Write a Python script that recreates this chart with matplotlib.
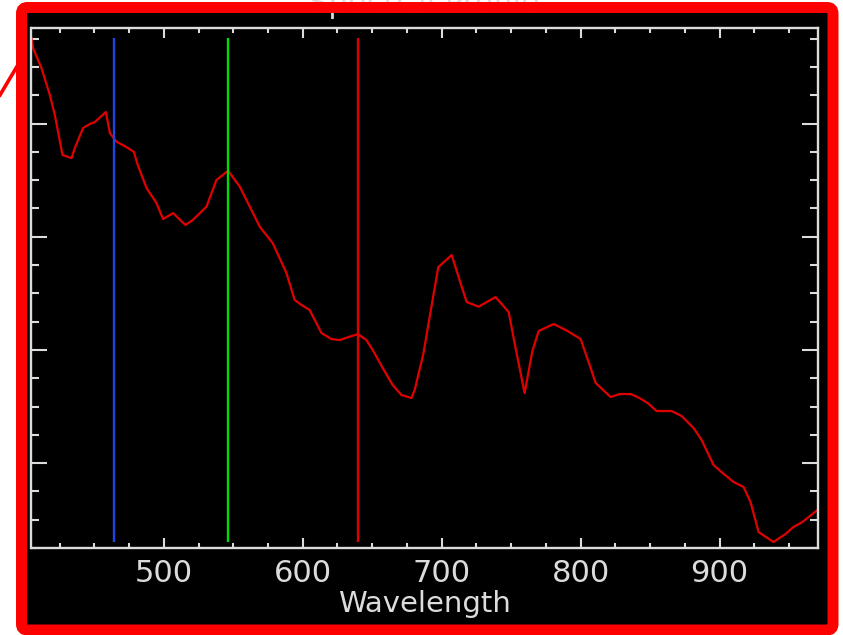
import matplotlib
matplotlib.use("Agg")
import matplotlib.pyplot as plt
from matplotlib.lines import Line2D
from matplotlib.patches import FancyBboxPatch
from matplotlib.ticker import MultipleLocator, NullFormatter

# spectral profile (wavelength in nm, arbitrary reflectance)
wavelength = [404.8, 406.0, 412.0, 418.0, 421.6, 427.1, 433.6, 436.0, 441.9, 446.8,
              450.4, 458.3, 461.2, 466.0, 472.7, 478.4, 481.3, 487.6, 494.7, 499.5,
              506.7, 515.6, 520.9, 530.7, 537.9, 546.3, 554.7, 569.1, 578.4, 588.3,
              594.2, 599.1, 605.0, 613.5, 620.6, 626.6, 633.8, 639.8, 645.8, 650.4,
              657.6, 664.7, 671.0, 678.2, 680.6, 686.8, 692.1, 697.6, 707.2, 712.9,
              718.0, 726.6, 738.8, 748.2, 753.2, 759.7, 765.3, 769.8, 780.6, 790.6,
              800.0, 806.5, 810.8, 821.6, 828.1, 836.0, 842.4, 848.2, 854.7, 865.5,
              872.7, 881.3, 887.1, 895.7, 901.4, 910.1, 917.3, 922.3, 928.1, 938.8,
              947.5, 953.2, 959.7, 970.5]
reflectance = [.4753, .4664, .4488, .4252, .4075, .3722, .3695, .3784, .3960, .3996,
               .4013, .4102, .3916, .3839, .3795, .3751, .3633, .3430, .3298, .3156,
               .3209, .3103, .3148, .3265, .3501, .3583, .3442, .3088, .2944, .2679,
               .2441, .2397, .2352, .2149, .2096, .2087, .2117, .2140, .2087, .1999,
               .1840, .1690, .1602, .1575, .1646, .1964, .2344, .2732, .2838, .2617,
               .2423, .2382, .2467, .2335, .2017, .1619, .1990, .2167, .2229, .2167,
               .2096, .1867, .1708, .1584, .1610, .1610, .1575, .1531, .1460, .1460,
               .1416, .1310, .1204, .0983, .0921, .0833, .0789, .0656, .0391, .0303,
               .0374, .0436, .0480, .0586]

# RGB display bands
band_nm = [464.0, 546.3, 640.0]
band_colors = ["#1e46e6", "#00dc00", "#dc0000"]

x_ticks = [500, 600, 700, 800, 900]

FG = "#dcdcdc"

fig = plt.figure(figsize=(8.43, 6.35), dpi=100, facecolor="white")

# black panel with the red selection frame (frame drawn on top later)
panel = FancyBboxPatch((0.215, 0.05), 8.115, 6.225,
                       boxstyle="round,pad=0,rounding_size=0.06",
                       transform=fig.dpi_scale_trans, facecolor="black",
                       edgecolor="none", zorder=-1)
fig.patches.append(panel)

ax = fig.add_axes([31.5 / 843, 87 / 635, 786 / 843, 520 / 635])
ax.set_facecolor("black")

ax.plot(wavelength, reflectance, color="#e00000", lw=1.6)
ax.vlines(band_nm, min(reflectance), max(reflectance), colors=band_colors, lw=1.7)

ax.set_xlim(min(wavelength), max(wavelength))
ax.set_ylim(0.025, 0.4844)

ax.set_xticks(x_ticks)
ax.xaxis.set_minor_locator(MultipleLocator(25))
ax.yaxis.set_major_locator(MultipleLocator(0.1))
ax.yaxis.set_minor_locator(MultipleLocator(0.025))
ax.yaxis.set_major_formatter(NullFormatter())

for s in ax.spines.values():
    s.set_color(FG)
    s.set_linewidth(1.7)

ax.tick_params(axis="both", which="both", direction="in", top=True, right=True,
               color=FG, width=1.5)
ax.tick_params(axis="x", which="major", length=7.5, pad=8, labelsize=22,
               labelcolor=FG)
ax.tick_params(axis="x", which="minor", length=3.8)
ax.tick_params(axis="y", which="major", length=11.5)
ax.tick_params(axis="y", which="minor", length=5.8)

fig.text(424.5 / 843, 23 / 635, "Wavelength", ha="center", va="baseline",
         fontsize=21, color=FG)

# title sits mostly above the visible frame
fig.text(424.5 / 843, 1 - 13 / 635, "Spectral Profile", ha="center",
         va="baseline", fontsize=22, color=FG, zorder=3)

# tail of an annotation arrow outside the frame
fig.lines.append(Line2D([0.0, 0.22], [5.40, 5.77], transform=fig.dpi_scale_trans,
                        color="red", lw=2.6, zorder=4))

frame = FancyBboxPatch((0.215, 0.05), 8.115, 6.225,
                       boxstyle="round,pad=0,rounding_size=0.06",
                       transform=fig.dpi_scale_trans, facecolor="none",
                       edgecolor="red", lw=7.9, zorder=5)
fig.patches.append(frame)

fig.savefig("out.png", dpi=100, facecolor="white")
